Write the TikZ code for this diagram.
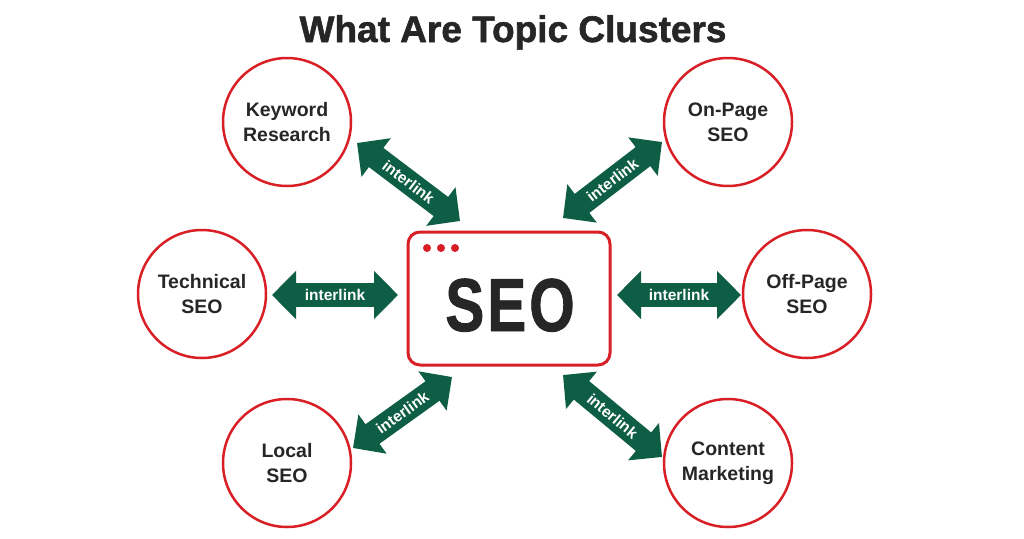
\documentclass[tikz,border=0pt]{standalone}
\usepackage{fontspec}
\setmainfont{Liberation Sans}
\newfontfamily\heavyfont[FakeBold=1.5]{Liberation Sans Bold}
\newfontfamily\hubfont[FakeBold=1.2, LetterSpace=5]{Liberation Sans Bold}
\usetikzlibrary{arrows.meta}
\definecolor{seored}{HTML}{D91F26}
\definecolor{seogreen}{HTML}{0E5E45}
\definecolor{seotext}{HTML}{262626}
\tikzset{
  topic/.style={circle, draw=seored, line width=2.5pt, minimum size=128pt, inner sep=0pt,
    text=seotext, align=center, font=\fontsize{19.5}{25}\selectfont\bfseries},
  hub/.style={draw=seored, line width=3pt, rounded corners=12pt},
  linkarrow/.style={draw=seogreen, line width=24pt,
    {Triangle[width=47pt,length=24pt]}-{Triangle[width=47pt,length=24pt]}},
  linklabel/.style={text=white, font=\fontsize{15.5}{18}\selectfont\bfseries, inner sep=0pt},
  dot/.style={circle, fill=seored, minimum size=8pt, inner sep=0pt}
}
\begin{document}
\begin{tikzpicture}[x=1pt,y=-1pt]
\useasboundingbox (0,0) rectangle (1024,538);
\fill[white] (0,0) rectangle (1024,538);
% title
\node[anchor=base, text=seotext, font=\fontsize{37}{40}\selectfont\heavyfont, inner sep=0pt]
  (title) at (513,42) {What Are Topic Clusters};
% hub
\draw[hub] (408,232) rectangle (610,365);
\node[dot] (d1) at (427,248) {};
\node[dot] (d2) at (441,248) {};
\node[dot] (d3) at (455,248) {};
\node[anchor=base, text=seotext, font=\fontsize{75}{80}\selectfont\hubfont, inner sep=0pt]
  (seo) at (510,331) {\scalebox{0.78}[1]{SEO}};
% topics
\node[topic] (kw) at (287,122) {Keyword\\Research};
\node[topic] (onp) at (728,122) {On-Page\\SEO};
\node[topic] (tech) at (202,294) {Technical\\SEO};
\node[topic] (offp) at (807,294) {Off-Page\\SEO};
\node[topic] (loc) at (287,463) {Local\\SEO};
\node[topic] (cm) at (728,463) {Content\\Marketing};
% arrow ends
\coordinate (kwA) at (357,143);   \coordinate (kwB) at (460,221);
\coordinate (onA) at (563,218);   \coordinate (onB) at (662,142);
\coordinate (teA) at (272,295);   \coordinate (teB) at (398,295);
\coordinate (ofA) at (617,295);   \coordinate (ofB) at (741,295);
\coordinate (loA) at (353,448);   \coordinate (loB) at (452,377);
\coordinate (cmA) at (563,375);   \coordinate (cmB) at (662,457);
\foreach \a/\b in {kwA/kwB, onA/onB, teA/teB, ofA/ofB, loA/loB, cmA/cmB}{
  \draw[linkarrow] (\a) -- node[linklabel, sloped] {interlink} (\b);
}
\end{tikzpicture}
\end{document}
